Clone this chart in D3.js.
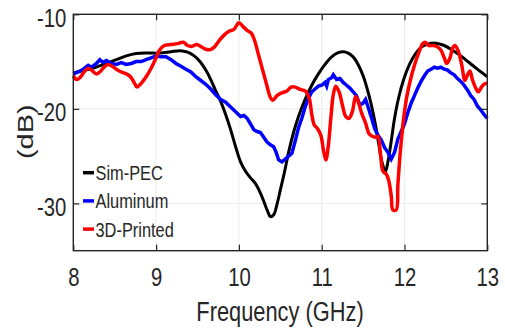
<!DOCTYPE html>
<html>
<head>
<meta charset="utf-8">
<script src="https://cdn.jsdelivr.net/npm/d3@7"></script>
<style>
  body { margin: 0; background: #fff; }
  text { font-family: "Liberation Sans", Arial, sans-serif; fill: #262626; }
</style>
</head>
<body>
<script>
// Sim-PEC (simulated)
const simFreq = [8.00, 8.10, 8.20, 8.30, 8.40, 8.52, 8.64, 8.76, 8.90, 9.05, 9.18, 9.29, 9.38, 9.46, 9.53, 9.60, 9.66, 9.72, 9.78, 9.84, 9.90, 9.96, 10.02, 10.08, 10.14, 10.20, 10.26, 10.31, 10.35, 10.38, 10.42, 10.46, 10.50, 10.55, 10.60, 10.66, 10.72, 10.80, 10.88, 10.96, 11.04, 11.12, 11.20, 11.26, 11.32, 11.38, 11.44, 11.50, 11.55, 11.60, 11.65, 11.69, 11.73, 11.77, 11.80, 11.84, 11.88, 11.93, 11.99, 12.06, 12.13, 12.20, 12.28, 12.38, 12.48, 12.58, 12.68, 12.78, 12.88, 13.00];
const simDb = [-16.2, -16.0, -15.8, -15.5, -15.2, -14.8, -14.4, -14.15, -14.1, -14.1, -13.95, -13.85, -14.0, -14.4, -15.0, -15.9, -16.9, -18.1, -19.2, -20.6, -22.2, -24.0, -25.6, -26.6, -27.3, -27.9, -28.9, -30.0, -30.9, -31.4, -31.2, -30.1, -28.6, -26.7, -24.6, -22.5, -20.8, -19.0, -17.5, -16.3, -15.3, -14.5, -14.05, -13.95, -14.1, -14.5, -15.3, -16.5, -17.9, -19.6, -21.7, -23.8, -25.7, -26.6, -25.6, -23.4, -21.0, -18.8, -16.9, -15.3, -14.2, -13.5, -13.15, -13.05, -13.3, -13.8, -14.4, -15.1, -15.8, -16.6];

// Aluminum (measured)
const aluFreq = [8.00, 8.06, 8.12, 8.18, 8.22, 8.28, 8.32, 8.36, 8.40, 8.46, 8.52, 8.58, 8.64, 8.70, 8.76, 8.82, 8.88, 8.94, 9.00, 9.06, 9.12, 9.18, 9.24, 9.30, 9.36, 9.42, 9.48, 9.54, 9.60, 9.66, 9.72, 9.78, 9.84, 9.90, 9.96, 10.02, 10.06, 10.10, 10.14, 10.18, 10.22, 10.26, 10.30, 10.34, 10.38, 10.42, 10.45, 10.48, 10.52, 10.56, 10.60, 10.64, 10.68, 10.72, 10.76, 10.80, 10.84, 10.88, 10.92, 10.96, 11.00, 11.04, 11.06, 11.08, 11.12, 11.14, 11.18, 11.22, 11.26, 11.30, 11.34, 11.38, 11.42, 11.46, 11.50, 11.53, 11.56, 11.60, 11.64, 11.68, 11.72, 11.76, 11.80, 11.84, 11.88, 11.92, 11.96, 12.00, 12.04, 12.08, 12.12, 12.16, 12.20, 12.24, 12.28, 12.32, 12.36, 12.40, 12.44, 12.48, 12.52, 12.56, 12.60, 12.64, 12.68, 12.72, 12.76, 12.80, 12.84, 12.88, 12.92, 12.96, 13.00];
const aluDb = [-16.3, -16.1, -15.8, -15.4, -15.6, -15.2, -14.8, -15.1, -14.9, -15.2, -15.3, -15.1, -15.3, -15.2, -15.0, -15.0, -14.8, -14.6, -14.4, -14.5, -14.5, -14.8, -15.2, -15.5, -15.8, -16.1, -16.6, -17.0, -17.4, -17.9, -18.5, -19.0, -19.3, -19.8, -20.3, -20.8, -20.7, -21.0, -21.6, -22.2, -22.4, -22.5, -23.0, -23.5, -23.8, -24.0, -24.6, -25.4, -25.6, -25.3, -25.0, -24.7, -23.4, -22.0, -21.0, -19.8, -18.9, -18.2, -17.9, -17.6, -17.5, -17.2, -17.6, -16.9, -16.7, -16.4, -16.9, -16.8, -17.2, -17.5, -17.8, -18.2, -18.6, -19.6, -19.4, -19.0, -19.8, -20.9, -22.1, -22.8, -23.3, -24.1, -24.6, -25.3, -24.6, -23.2, -22.4, -21.6, -20.4, -19.4, -18.6, -17.8, -17.1, -16.5, -16.0, -15.8, -15.6, -15.7, -15.6, -15.8, -15.9, -16.2, -16.4, -16.8, -17.1, -17.5, -18.0, -18.6, -19.0, -19.7, -20.1, -20.6, -21.0];

// 3D-Printed (measured)
const prtFreq = [8.00, 8.04, 8.08, 8.14, 8.18, 8.22, 8.28, 8.32, 8.38, 8.42, 8.47, 8.52, 8.58, 8.64, 8.69, 8.74, 8.77, 8.82, 8.88, 8.94, 9.00, 9.04, 9.10, 9.18, 9.26, 9.33, 9.38, 9.43, 9.49, 9.54, 9.60, 9.65, 9.70, 9.76, 9.82, 9.88, 9.94, 10.00, 10.05, 10.10, 10.15, 10.19, 10.24, 10.29, 10.34, 10.38, 10.41, 10.46, 10.52, 10.58, 10.63, 10.68, 10.74, 10.80, 10.85, 10.88, 10.91, 10.95, 10.99, 11.02, 11.05, 11.08, 11.11, 11.14, 11.17, 11.21, 11.25, 11.29, 11.33, 11.37, 11.41, 11.44, 11.48, 11.53, 11.57, 11.61, 11.65, 11.68, 11.71, 11.74, 11.78, 11.81, 11.84, 11.86, 11.90, 11.92, 11.95, 11.99, 12.03, 12.07, 12.12, 12.17, 12.22, 12.25, 12.29, 12.34, 12.39, 12.44, 12.48, 12.51, 12.55, 12.58, 12.61, 12.65, 12.69, 12.73, 12.76, 12.79, 12.82, 12.86, 12.89, 12.93, 12.96, 13.00];
const prtDb = [-16.5, -16.9, -16.7, -16.0, -15.7, -15.9, -16.3, -16.1, -15.5, -15.3, -15.5, -15.8, -16.1, -16.3, -16.6, -17.3, -17.7, -17.3, -16.6, -15.7, -14.6, -13.8, -13.3, -13.2, -13.1, -12.95, -13.3, -13.4, -13.2, -13.4, -13.7, -13.75, -13.5, -12.8, -12.2, -11.8, -11.6, -10.9, -11.3, -11.7, -12.0, -12.8, -14.4, -16.0, -17.6, -18.8, -19.1, -18.6, -18.3, -18.1, -17.7, -17.7, -17.95, -18.1, -18.9, -20.6, -21.7, -22.1, -22.8, -24.3, -25.4, -23.9, -21.0, -18.5, -17.6, -18.2, -19.6, -20.8, -21.0, -20.3, -18.7, -19.2, -20.4, -21.5, -22.6, -22.9, -23.0, -22.9, -24.8, -26.6, -26.9, -27.6, -29.2, -30.7, -30.7, -28.0, -24.5, -21.0, -18.6, -17.0, -15.4, -14.1, -13.1, -12.95, -13.3, -13.3, -13.4, -13.8, -14.6, -15.2, -14.6, -13.6, -13.3, -13.9, -15.3, -17.0, -16.4, -16.0, -16.9, -17.8, -18.2, -17.7, -17.4, -17.3];

const seriesNames = ["Sim-PEC", "Aluminum", "3D-Printed"];
const seriesColors = ["#000000", "#0000ff", "#ff0000"];
const xTicks = [8, 9, 10, 11, 12, 13];
const yTicks = [-30, -20, -10];

const margin = { top: 14.3, right: 17.7, bottom: 80.3, left: 73.3 },
    width = 505 - margin.left - margin.right,
    height = 331 - margin.top - margin.bottom;

// the picture's text is horizontally squeezed
const sx = 0.78;
function squeeze(sel) {
    sel.each(function () {
        const t = d3.select(this);
        const x0 = +t.attr("x") || 0;
        t.attr("x", x0 / sx).attr("transform", "scale(" + sx + ",1)");
    });
}

const svg = d3.select("body")
    .append("svg")
    .attr("width", 505)
    .attr("height", 331)
    .append("g")
    .attr("transform", "translate(" + margin.left + "," + margin.top + ")");

const x = d3.scaleLinear().domain([8, 13]).range([0, width]);
const y = d3.scaleLinear().domain([-35, -10]).range([height, 0]);

// grid lines
svg.append("g").selectAll("line")
    .data(xTicks)
    .enter().append("line")
    .attr("x1", d => x(d)).attr("x2", d => x(d))
    .attr("y1", 0).attr("y2", height)
    .attr("stroke", "#ebebeb").attr("stroke-width", 1);
svg.append("g").selectAll("line")
    .data(yTicks)
    .enter().append("line")
    .attr("x1", 0).attr("x2", width)
    .attr("y1", d => y(d)).attr("y2", d => y(d))
    .attr("stroke", "#ebebeb").attr("stroke-width", 1);

// curves
const lineSmooth = d3.line().x(d => x(d[0])).y(d => y(d[1])).curve(d3.curveCatmullRom.alpha(0.5));
const lineRough = d3.line().x(d => x(d[0])).y(d => y(d[1])).curve(d3.curveLinear);

const plot = svg.append("g");
plot.append("path")
    .datum(simFreq.map((f, i) => [f, simDb[i]]))
    .attr("d", lineSmooth)
    .attr("fill", "none").attr("stroke", seriesColors[0])
    .attr("stroke-width", 3).attr("stroke-linejoin", "round");
plot.append("path")
    .datum(aluFreq.map((f, i) => [f, aluDb[i]]))
    .attr("d", lineRough)
    .attr("fill", "none").attr("stroke", seriesColors[1])
    .attr("stroke-width", 3.5).attr("stroke-linejoin", "miter");
plot.append("path")
    .datum(prtFreq.map((f, i) => [f, prtDb[i]]))
    .attr("d", lineSmooth)
    .attr("fill", "none").attr("stroke", seriesColors[2])
    .attr("stroke-width", 3.5).attr("stroke-linejoin", "round");

// axes (ticks pointing inward, on all four sides)
const axisStyle = g => {
    g.select(".domain").remove();
    g.selectAll(".tick line").attr("stroke", "#262626").attr("stroke-width", 1.2);
    g.selectAll("text").style("font-size", "26px").attr("fill", "#262626");
};

svg.append("g")
    .attr("transform", "translate(0," + height + ")")
    .call(d3.axisBottom(x).tickValues(xTicks).tickSize(-6).tickPadding(17).tickFormat(d => String(d)))
    .call(axisStyle)
    .selectAll("text").call(squeeze);
svg.append("g")
    .call(d3.axisTop(x).tickValues(xTicks).tickSize(-6))
    .call(axisStyle)
    .selectAll("text").remove();
svg.append("g")
    .call(d3.axisLeft(y).tickValues(yTicks).tickSize(-6).tickPadding(7).tickFormat(d => String(d)))
    .call(axisStyle)
    .selectAll("text").attr("dy", "0.45em").call(squeeze);
svg.append("g")
    .attr("transform", "translate(" + width + ",0)")
    .call(d3.axisRight(y).tickValues(yTicks).tickSize(-6))
    .call(axisStyle)
    .selectAll("text").remove();

// box
svg.append("rect")
    .attr("width", width).attr("height", height)
    .attr("fill", "none").attr("stroke", "#262626").attr("stroke-width", 1.4);

// axis labels
svg.append("text")
    .attr("x", 280 - margin.left)
    .attr("y", 321 - margin.top)
    .attr("text-anchor", "middle")
    .style("font-size", "28px")
    .text("Frequency (GHz)")
    .call(squeeze);

svg.append("text")
    .attr("transform", "translate(" + (33 - margin.left) + "," + (131.7 - margin.top) + ") scale(" + sx + ",1) rotate(-90)")
    .attr("text-anchor", "middle")
    .style("font-size", "29px")
    .text("(dB)");

// legend
const legend = svg.append("g")
    .selectAll("g")
    .data(seriesNames)
    .enter().append("g")
    .attr("transform", (d, i) => "translate(" + (83 - margin.left) + "," + (172.7 - margin.top + i * 28.2) + ")");
legend.append("line")
    .attr("x1", 0).attr("x2", 11)
    .attr("stroke", (d, i) => seriesColors[i])
    .attr("stroke-width", 3.5);
legend.append("text")
    .attr("x", 12.5)
    .attr("y", 7.5)
    .style("font-size", "21px")
    .text(d => d)
    .call(squeeze);
</script>
</body>
</html>
